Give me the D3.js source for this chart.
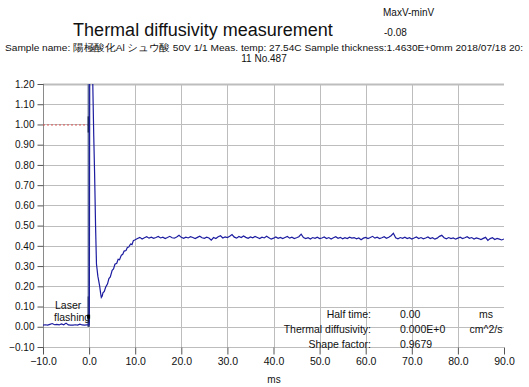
<!DOCTYPE html>
<html>
<head>
<meta charset="utf-8">
<script src="https://cdn.jsdelivr.net/npm/d3@7"></script>
<style>
  body { margin: 0; background: #fff; }
</style>
</head>
<body>
<div id="chart"></div>
<script>
// ---- data ----
const xTicks = [-10, 0, 10, 20, 30, 40, 50, 60, 70, 80, 90];
const yTicks = [-0.1, 0, 0.1, 0.2, 0.3, 0.4, 0.5, 0.6, 0.7, 0.8, 0.9, 1.0, 1.1, 1.2];

// pre-flash baseline, sampled every 0.5 ms from -10 ms
const baseStart = -10;
const baseValues = [0.008, 0.010, 0.008, 0.012, 0.016, 0.010, 0.012, 0.009, 0.014, 0.010, 0.018,
    0.009, 0.008, 0.008, 0.010, 0.008, 0.013, 0.009, 0.008, 0.009, 0.010];

// flash response (irregular times)
const pulseTimes = [0.05, 0.15, 0.6, 0.8, 1.0, 1.2, 1.4, 1.6, 1.9, 2.3, 2.5, 2.65, 2.85, 3.0, 3.3, 3.6,
    4.0, 4.3, 4.6, 5.0, 5.3, 5.6, 6.0, 6.3, 6.6, 7.0, 7.3, 7.6, 8.0, 8.3, 8.6, 9.0, 9.3, 9.6, 10.0];
const pulseValues = [0.02, 1.5, 1.5, 1.2, 0.95, 0.75, 0.5, 0.31, 0.25, 0.20, 0.165, 0.145, 0.152, 0.168,
    0.175, 0.196, 0.212, 0.238, 0.246, 0.279, 0.286, 0.309, 0.314, 0.334, 0.331, 0.354, 0.358, 0.374,
    0.377, 0.392, 0.394, 0.409, 0.406, 0.426, 0.43];

// plateau, sampled every 0.5 ms from 10.5 ms
const plateauStart = 10.5;
const plateauValues = [
    0.436, 0.442, 0.434, 0.440, 0.445, 0.438, 0.443, 0.437, 0.441, 0.446,
    0.439, 0.443, 0.436, 0.441, 0.447, 0.440, 0.438, 0.444, 0.452, 0.442,
    0.437, 0.443, 0.439, 0.445, 0.441, 0.436, 0.442, 0.448, 0.440, 0.437,
    0.443, 0.439, 0.428, 0.441, 0.436, 0.445, 0.450, 0.439, 0.444, 0.441,
    0.447, 0.456, 0.443, 0.438, 0.446, 0.441, 0.449, 0.442, 0.437, 0.444,
    0.440, 0.446, 0.441, 0.436, 0.443, 0.439, 0.447, 0.440, 0.433, 0.438,
    0.444, 0.437, 0.442, 0.436, 0.441, 0.446, 0.438, 0.443, 0.436, 0.440,
    0.445, 0.458, 0.441, 0.436, 0.440, 0.434, 0.441, 0.437, 0.443, 0.436,
    0.439, 0.444, 0.436, 0.441, 0.434, 0.440, 0.445, 0.437, 0.442, 0.435,
    0.440, 0.436, 0.443, 0.438, 0.441, 0.435, 0.439, 0.430, 0.438, 0.442,
    0.436, 0.441, 0.447, 0.438, 0.443, 0.436, 0.440, 0.445, 0.437, 0.442,
    0.450, 0.462, 0.440, 0.435, 0.441, 0.437, 0.443, 0.436, 0.440, 0.434,
    0.439, 0.444, 0.436, 0.441, 0.435, 0.439, 0.444, 0.436, 0.440, 0.433,
    0.438, 0.447, 0.452, 0.440, 0.435, 0.441, 0.436, 0.439, 0.433, 0.438,
    0.443, 0.436, 0.440, 0.445, 0.437, 0.441, 0.434, 0.439, 0.436, 0.431,
    0.437, 0.442, 0.427, 0.436, 0.440, 0.431, 0.437, 0.433, 0.429, 0.434];
const sampleStep = 0.5;

const infoLabels = ["Half time:", "Thermal diffusivity:", "Shape factor:"];
const infoValues = ["0.00", "0.000E+0", "0.9679"];
const infoUnits = ["ms", "cm^2/s", ""];

// ---- layout ----
const width = 529, height = 387;
const plot = { left: 43, right: 504, top: 84, bottom: 347 };
const smallFont = "'Liberation Sans', Arial, sans-serif";

const svg = d3.select("#chart").append("svg")
    .attr("width", width)
    .attr("height", height)
    .style("font-family", smallFont);

svg.append("rect").attr("width", width).attr("height", height).attr("fill", "#fff");

const x = d3.scaleLinear().domain([-10, 90]).range([plot.left, plot.right]);
const y = d3.scaleLinear().domain([-0.1, 1.2]).range([plot.bottom, plot.top]);

// grid
svg.append("g").selectAll("line")
    .data(yTicks)
    .join("line")
    .attr("x1", plot.left).attr("x2", plot.right)
    .attr("y1", d => Math.round(y(d)) + 0.5).attr("y2", d => Math.round(y(d)) + 0.5)
    .attr("stroke", "#bdbdbd")
    .attr("stroke-width", d => d === 1.2 ? 2 : 1);

svg.append("g").selectAll("line")
    .data(xTicks.filter(d => d > -10 && d < 90))
    .join("line")
    .attr("x1", d => Math.round(x(d)) + 0.5).attr("x2", d => Math.round(x(d)) + 0.5)
    .attr("y1", plot.top).attr("y2", plot.bottom)
    .attr("stroke", "#bdbdbd");

// left axis
const yAxis = svg.append("g")
    .attr("transform", `translate(${plot.left + 0.5},0)`)
    .call(d3.axisLeft(y).tickValues(yTicks).tickSize(6).tickPadding(3).tickFormat(d3.format(".2f")));
yAxis.select(".domain").attr("stroke", "#8a8a8a").attr("d", `M0,${plot.top}V${plot.bottom + 6}`);
yAxis.selectAll(".tick line").attr("stroke", "#555");
yAxis.selectAll("text").attr("font-size", 10).attr("fill", "#111").attr("font-family", smallFont);

// bottom axis
const xAxis = svg.append("g")
    .attr("transform", `translate(0,${plot.bottom + 0.5})`)
    .call(d3.axisBottom(x).tickValues(xTicks).tickSize(7).tickPadding(1).tickFormat(d3.format(".1f")));
xAxis.select(".domain").remove();
xAxis.selectAll(".tick line").attr("stroke", "#555");
xAxis.selectAll("text").attr("font-size", 10.5).attr("fill", "#111").attr("font-family", smallFont)
    .attr("dy", "0.95em");

// reference level and flash marker
svg.append("line")
    .attr("x1", x(-10)).attr("x2", x(0))
    .attr("y1", y(1.0) + 0.5).attr("y2", y(1.0) + 0.5)
    .attr("stroke", "#d9534f").attr("stroke-dasharray", "2,2");

svg.append("line")
    .attr("x1", x(0) - 0.5).attr("x2", x(0) - 0.5)
    .attr("y1", y(0)).attr("y2", y(1.2))
    .attr("stroke", "#5c6b96").attr("stroke-width", 2);
svg.append("line")
    .attr("x1", x(0) - 0.5).attr("x2", x(0) - 0.5)
    .attr("y1", y(0.96)).attr("y2", y(1.04))
    .attr("stroke", "#1d2a5c").attr("stroke-width", 2);
svg.append("line")
    .attr("x1", x(0) - 0.5).attr("x2", x(0) - 0.5)
    .attr("y1", y(0)).attr("y2", y(0.15))
    .attr("stroke", "#2e3d6e").attr("stroke-width", 2);

// signal
const signal = [];
baseValues.forEach((v, i) => signal.push([baseStart + i * sampleStep, v]));
pulseValues.forEach((v, i) => signal.push([pulseTimes[i], v]));
plateauValues.forEach((v, i) => signal.push([plateauStart + i * sampleStep, v]));

svg.append("clipPath").attr("id", "clip")
    .append("rect")
    .attr("x", plot.left).attr("y", plot.top)
    .attr("width", plot.right - plot.left).attr("height", plot.bottom - plot.top);

svg.append("path")
    .datum(signal)
    .attr("clip-path", "url(#clip)")
    .attr("fill", "none")
    .attr("stroke", "#1c1ca0")
    .attr("stroke-width", 1.2)
    .attr("d", d3.line().x(d => x(d[0])).y(d => y(d[1])));

// laser flashing note
svg.append("text").attr("x", 55).attr("y", 309).attr("font-size", 10.5).attr("fill", "#111").text("Laser");
svg.append("text").attr("x", 54).attr("y", 321).attr("font-size", 10.5).attr("fill", "#111").text("flashing");
svg.append("rect").attr("x", x(0) - 2).attr("y", y(0.05) - 2).attr("width", 3).attr("height", 4).attr("fill", "#000");

// titles
svg.append("text")
    .attr("x", 203).attr("y", 36)
    .attr("text-anchor", "middle")
    .attr("font-family", "'Liberation Sans', Arial, sans-serif")
    .attr("font-size", 18)
    .attr("fill", "#111")
    .text("Thermal diffusivity measurement");

svg.append("text").attr("x", 383).attr("y", 16).attr("font-size", 10).attr("fill", "#111").text("MaxV-minV");
svg.append("text").attr("x", 384).attr("y", 36).attr("font-size", 10).attr("fill", "#111").text("-0.08");

svg.append("text")
    .attr("x", 5).attr("y", 51)
    .attr("font-size", 9.5)
    .attr("fill", "#111")
    .attr("textLength", 518)
    .attr("lengthAdjust", "spacingAndGlyphs")
    .text("Sample name: 陽極酸化Al シュウ酸  50V 1/1 Meas. temp: 27.54C Sample thickness:1.4630E+0mm 2018/07/18 20:");
svg.append("text")
    .attr("x", 264).attr("y", 62)
    .attr("text-anchor", "middle")
    .attr("font-size", 10)
    .attr("fill", "#111")
    .text("11  No.487");

svg.append("text")
    .attr("x", (plot.left + plot.right) / 2 + 0.5).attr("y", 383)
    .attr("text-anchor", "middle")
    .attr("font-size", 10)
    .attr("fill", "#111")
    .text("ms");

// info block
const info = svg.append("g").attr("font-size", 10.5).attr("fill", "#111");
infoLabels.forEach((t, i) => {
    const by = 318 + i * 15;
    info.append("text").attr("x", 371).attr("y", by).attr("text-anchor", "end").text(t);
    info.append("text").attr("x", 400).attr("y", by).text(infoValues[i]);
    info.append("text").attr("x", 486).attr("y", by).attr("text-anchor", "middle").text(infoUnits[i]);
});
</script>
</body>
</html>
